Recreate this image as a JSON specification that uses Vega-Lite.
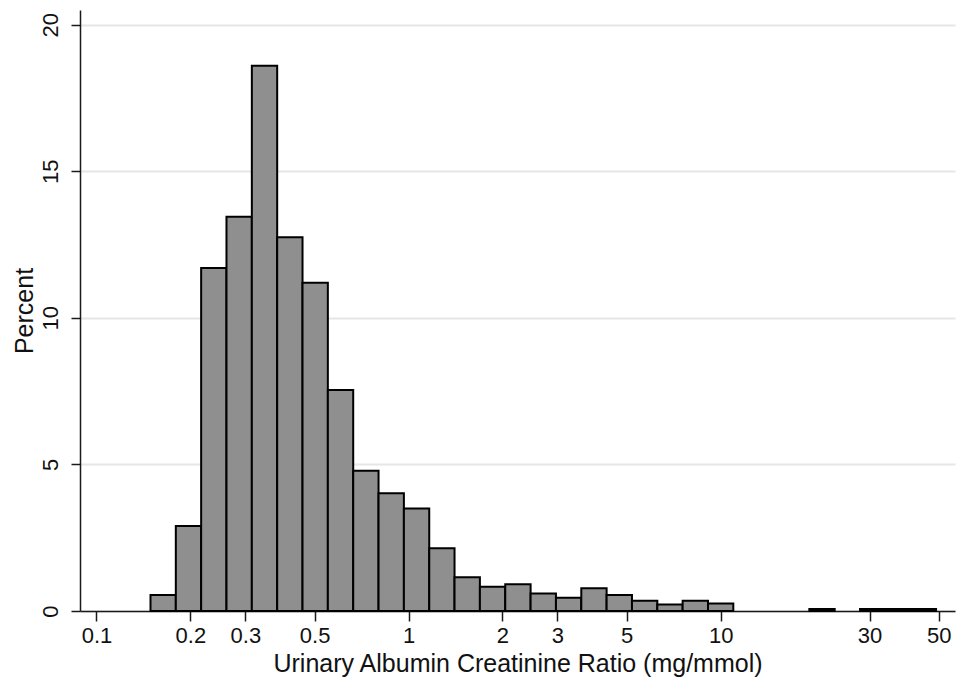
{
  "$schema": "https://vega.github.io/schema/vega-lite/v6.json",
  "width": 875,
  "height": 601,
  "autosize": "none",
  "padding": {"left": 80, "top": 10, "right": 8, "bottom": 69},
  "background": "white",
  "config": {
    "view": {"stroke": null},
    "font": "Liberation Sans"
  },
  "data": {
    "values": [
      {"lo": 0.1490, "hi": 0.1796, "pct": 0.55},
      {"lo": 0.1796, "hi": 0.2165, "pct": 2.9},
      {"lo": 0.2165, "hi": 0.2610, "pct": 11.7},
      {"lo": 0.2610, "hi": 0.3147, "pct": 13.45},
      {"lo": 0.3147, "hi": 0.3794, "pct": 18.6},
      {"lo": 0.3794, "hi": 0.4574, "pct": 12.75},
      {"lo": 0.4574, "hi": 0.5514, "pct": 11.2},
      {"lo": 0.5514, "hi": 0.6648, "pct": 7.54},
      {"lo": 0.6648, "hi": 0.8015, "pct": 4.78},
      {"lo": 0.8015, "hi": 0.9663, "pct": 4.02},
      {"lo": 0.9663, "hi": 1.165, "pct": 3.5},
      {"lo": 1.165, "hi": 1.404, "pct": 2.14},
      {"lo": 1.404, "hi": 1.693, "pct": 1.15},
      {"lo": 1.693, "hi": 2.041, "pct": 0.83},
      {"lo": 2.041, "hi": 2.461, "pct": 0.91},
      {"lo": 2.461, "hi": 2.967, "pct": 0.6},
      {"lo": 2.967, "hi": 3.577, "pct": 0.45},
      {"lo": 3.577, "hi": 4.312, "pct": 0.78},
      {"lo": 4.312, "hi": 5.199, "pct": 0.55},
      {"lo": 5.199, "hi": 6.268, "pct": 0.35},
      {"lo": 6.268, "hi": 7.556, "pct": 0.22},
      {"lo": 7.556, "hi": 9.110, "pct": 0.35},
      {"lo": 9.110, "hi": 10.98, "pct": 0.26},
      {"lo": 19.24, "hi": 23.20, "pct": 0.07},
      {"lo": 27.97, "hi": 33.72, "pct": 0.07},
      {"lo": 33.72, "hi": 40.65, "pct": 0.07},
      {"lo": 40.65, "hi": 49.01, "pct": 0.07}
    ]
  },
  "mark": {"type": "bar", "fill": "#8f8f8f", "stroke": "#000000", "strokeWidth": 2},
  "encoding": {
    "x": {
      "field": "lo",
      "type": "quantitative",
      "scale": {"type": "log", "domain": [0.08857, 56.36], "nice": false},
      "axis": {
        "title": "Urinary Albumin Creatinine Ratio (mg/mmol)",
        "values": [0.1, 0.2, 0.3, 0.5, 1, 2, 3, 5, 10, 30, 50],
        "format": "~g",
        "grid": false,
        "domainColor": "#1a1a1a",
        "domainWidth": 1.5,
        "tickColor": "#1a1a1a",
        "tickWidth": 1.5,
        "tickSize": 10,
        "labelFontSize": 22,
        "labelColor": "#111111",
        "labelPadding": 4,
        "labelFlush": false,
        "labelOverlap": false,
        "titleFontSize": 25,
        "titleFontWeight": "normal",
        "titleColor": "#111111",
        "titleBaseline": "alphabetic",
        "titleY": 60
      }
    },
    "x2": {"field": "hi"},
    "y": {
      "field": "pct",
      "type": "quantitative",
      "scale": {"domain": [0, 20.5], "nice": false},
      "axis": {
        "title": "Percent",
        "values": [0, 5, 10, 15, 20],
        "grid": true,
        "gridColor": "#e6e6e6",
        "gridWidth": 2,
        "domainColor": "#1a1a1a",
        "domainWidth": 1.5,
        "tickColor": "#1a1a1a",
        "tickWidth": 1.5,
        "tickSize": 9,
        "labelFontSize": 22,
        "labelColor": "#111111",
        "labelAngle": -90,
        "labelAlign": "center",
        "labelBaseline": "alphabetic",
        "labelPadding": 14,
        "labelFlush": false,
        "titleFontSize": 25,
        "titleFontWeight": "normal",
        "titleColor": "#111111",
        "titleAngle": -90,
        "titleBaseline": "alphabetic",
        "titleX": -48
      }
    },
    "y2": {"datum": 0}
  }
}
